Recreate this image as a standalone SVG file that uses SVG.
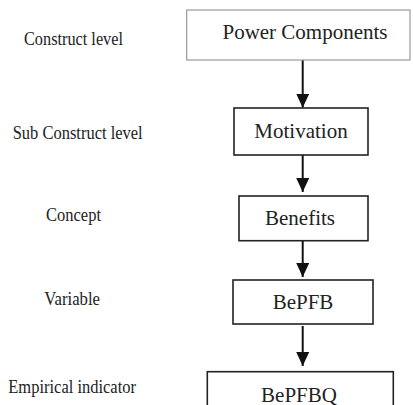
<svg xmlns="http://www.w3.org/2000/svg" width="413" height="405" viewBox="0 0 413 405">
<defs>
<style>
.lbl{font-family:"Liberation Serif","Times New Roman",serif;font-size:18px;fill:#222}
.bt{font-family:"Liberation Serif","Times New Roman",serif;font-size:21px;fill:#222;text-anchor:middle}
.box{fill:#fff;stroke:#222;stroke-width:1.6}
.con{stroke:#111;stroke-width:2;fill:none}
</style>
<marker id="ah" viewBox="0 0 14 13" refX="14" refY="6.5" markerWidth="14" markerHeight="13" markerUnits="userSpaceOnUse" orient="auto">
<path d="M0,0 L14,6.5 L0,13 Z" fill="#111"/>
</marker>
</defs>
<rect width="413" height="405" fill="#fff"/>
<g id="labels">
<text class="lbl" x="24" y="45" textLength="99" lengthAdjust="spacingAndGlyphs">Construct level</text>
<text class="lbl" x="12.7" y="139" textLength="130" lengthAdjust="spacingAndGlyphs">Sub Construct level</text>
<text class="lbl" x="46" y="220.5" textLength="55" lengthAdjust="spacingAndGlyphs">Concept</text>
<text class="lbl" x="44.3" y="305" textLength="55.7" lengthAdjust="spacingAndGlyphs">Variable</text>
<text class="lbl" x="8.3" y="393" textLength="127.7" lengthAdjust="spacingAndGlyphs">Empirical indicator</text>
</g>
<g id="connectors">
<line class="con" x1="302.7" y1="60" x2="302.7" y2="107.7" marker-end="url(#ah)"/>
<line class="con" x1="302.7" y1="155" x2="302.7" y2="192" marker-end="url(#ah)"/>
<line class="con" x1="302.7" y1="241" x2="302.7" y2="277" marker-end="url(#ah)"/>
<line class="con" x1="302.7" y1="326" x2="302.7" y2="366" marker-end="url(#ah)"/>
</g>
<g id="power">
<rect x="186.7" y="10" width="223.3" height="50" fill="#fff" stroke="#999" stroke-width="1.2"/>
<text class="bt" x="305" y="38.5">Power Components</text>
</g>
<g id="motivation">
<rect class="box" x="234" y="108" width="134" height="47"/>
<text class="bt" x="301" y="138">Motivation</text>
</g>
<g id="benefits">
<rect class="box" x="239" y="196" width="129" height="44.7"/>
<text class="bt" x="300" y="225">Benefits</text>
</g>
<g id="bepfb">
<rect class="box" x="233" y="280" width="140" height="44"/>
<text class="bt" x="303" y="309">BePFB</text>
</g>
<g id="bepfbq">
<rect class="box" x="207.3" y="371.7" width="186" height="50"/>
<text class="bt" x="299" y="401.7">BePFBQ</text>
</g>
</svg>
